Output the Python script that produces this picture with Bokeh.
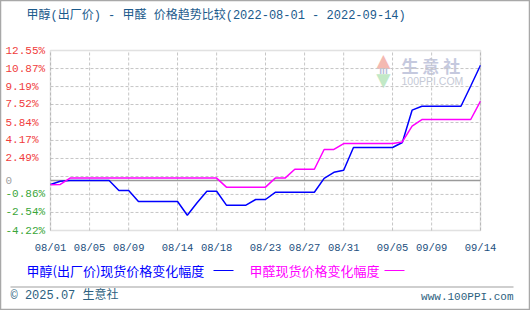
import datetime as dt
from bokeh.plotting import figure
from bokeh.models import Range1d, Label, BoxAnnotation, ColumnDataSource
from bokeh.embed import file_html
from bokeh.resources import INLINE

# ---------------- data ----------------
start_date = "2022-08-01"
end_date = "2022-09-14"
n_days = 45
methanol = [0.07, 0.37, 0.44, 0.44, 0.44, 0.44, 0.44, -0.49, -0.49, -1.52,
            -1.52, -1.52, -1.52, -1.52, -2.80, -1.63, -0.56, -0.56, -1.86, -1.86,
            -1.86, -1.33, -1.33, -0.66, -0.66, -0.66, -0.66, -0.66, 0.64, 1.20,
            1.40, 3.51, 3.51, 3.51, 3.51, 3.51, 3.98, 6.99, 7.36, 7.36,
            7.36, 7.36, 7.36, 9.24, 11.18]
formaldehyde = [0.05, 0.07, 0.66, 0.66, 0.66, 0.66, 0.66, 0.66, 0.66, 0.66,
                0.66, 0.66, 0.66, 0.66, 0.66, 0.66, 0.66, 0.66, -0.18, -0.18,
                -0.18, -0.18, -0.18, 0.66, 0.66, 1.49, 1.49, 1.49, 3.33, 3.33,
                3.88, 3.88, 3.88, 3.88, 3.88, 3.88, 4.03, 5.50, 6.12, 6.12,
                6.12, 6.12, 6.12, 6.12, 7.83]
x_tick_dates = ["2022-08-01", "2022-08-05", "2022-08-09", "2022-08-14", "2022-08-18",
                "2022-08-23", "2022-08-27", "2022-08-31", "2022-09-05", "2022-09-09",
                "2022-09-14"]
x_tick_labels = ["08/01", "08/05", "08/09", "08/14", "08/18", "08/23", "08/27", "08/31",
                 "09/05", "09/09", "09/14"]
y_min, y_max = -4.22, 12.55
y_tick_values = [12.55, 10.87, 9.19, 7.52, 5.84, 4.17, 2.49, 0.44, -0.86, -2.54, -4.22]
y_tick_labels = ["12.55%", "10.87%", "9.19%", "7.52%", "5.84%", "4.17%", "2.49%", "0",
                 "-0.86%", "-2.54%", "-4.22%"]
y_grid_values = [10.87, 9.19, 7.52, 5.84, 4.17, 2.49, 0.81, -0.86, -2.54]
zero_level = 0.44

title_text = "甲醇(出厂价) - 甲醛 价格趋势比较(2022-08-01 - 2022-09-14)"
series_names = ["甲醇(出厂价)现货价格变化幅度", "甲醛现货价格变化幅度"]
footer_left = "© 2025.07 生意社"
footer_right = "www.100PPI.com"

# ---------------- layout constants (pixels) ----------------
W, H = 530, 310
PL, PR, PT, PB = 50, 480, 50, 230   # plotting box inside the canvas

EPOCH = dt.datetime(1970, 1, 1)


def ms(d):
    return (d - EPOCH).total_seconds() * 1000.0


t0 = ms(dt.datetime.fromisoformat(start_date))
t1 = ms(dt.datetime.fromisoformat(end_date))
x_per_px = (t1 - t0) / (PR - PL)
y_per_px = (y_max - y_min) / (PB - PT)

d0 = dt.datetime.fromisoformat(start_date)
dates = [ms(d0 + dt.timedelta(days=i)) for i in range(n_days)]
src = ColumnDataSource(dict(x=dates, m=methanol, f=formaldehyde))

p = figure(width=W, height=H, output_backend="svg", toolbar_location=None,
           x_range=Range1d(t0 - PL * x_per_px, t1 + (W - PR) * x_per_px),
           y_range=Range1d(y_min - (H - PB) * y_per_px, y_max + PT * y_per_px),
           min_border=0, min_border_left=0, min_border_right=0,
           min_border_top=0, min_border_bottom=0)
p.axis.visible = False
p.grid.visible = False
p.background_fill_color = "white"
p.border_fill_color = "white"
p.outline_line_color = "#a8a8a8"
p.outline_line_width = 1.5

tick_ms = [ms(dt.datetime.fromisoformat(d)) for d in x_tick_dates]

U = "canvas"

# watermark (behind the data)
p.add_layout(Label(x=383, y=60, x_units=U, y_units=U, text="▲",
                   text_align="center", text_baseline="middle", text_font_size="24px",
                   text_color="#f4b9b1", level="underlay"))
p.add_layout(Label(x=383, y=69.5, x_units=U, y_units=U, text="ııı",
                   text_align="center", text_baseline="middle", text_font_size="10px",
                   text_font_style="bold", text_color="#b8bcd8", level="underlay"))
p.add_layout(Label(x=383, y=79, x_units=U, y_units=U, text="▼",
                   text_align="center", text_baseline="middle", text_font_size="24px",
                   text_color="#c2e9c6", level="underlay"))
p.add_layout(Label(x=401, y=65, x_units=U, y_units=U, text="生 意 社",
                   text_align="left", text_baseline="middle", text_font="Noto Sans CJK SC",
                   text_font_size="17px", text_font_style="bold", text_color="#c5c9de",
                   level="underlay"))
p.add_layout(Label(x=401, y=80, x_units=U, y_units=U, text="100PPI.COM",
                   text_align="left", text_baseline="middle", text_font="Liberation Sans",
                   text_font_size="10.5px", text_color="#c5c9d6", level="underlay"))

# dashed grid inside the plotting box
grid_col = "#c6c6c6"
p.segment(x0=tick_ms, x1=tick_ms, y0=[y_min] * len(tick_ms), y1=[y_max] * len(tick_ms),
          line_color=grid_col, line_dash="3 2", line_width=1)
p.segment(x0=[t0] * len(y_grid_values), x1=[t1] * len(y_grid_values),
          y0=y_grid_values, y1=y_grid_values,
          line_color=grid_col, line_dash="3 2", line_width=1)
# zero line
p.segment(x0=[t0], x1=[t1], y0=[zero_level], y1=[zero_level],
          line_color="#9a9a9a", line_width=1.5)
# plotting box border
p.add_layout(BoxAnnotation(left=t0, right=t1, bottom=y_min, top=y_max, fill_alpha=0,
                           line_color="#9a9a9a", line_width=1.5))

p.line("x", "m", source=src, line_color="#0000ff", line_width=1.5)
p.line("x", "f", source=src, line_color="#ff00ff", line_width=1.5)

# x tick labels
for t, lab in zip(tick_ms, x_tick_labels):
    p.add_layout(Label(x=t, x_units="data", y=247, y_units=U, text=lab,
                       text_align="center", text_baseline="middle",
                       text_font="Liberation Mono", text_font_size="10.5px",
                       text_color="#1d4f7e"))

# y tick labels with sign-dependent colours
for v, t in zip(y_tick_values, y_tick_labels):
    if t == "0":
        col = "#a0a0a0"
    elif t.startswith("-"):
        col = "#3aa63a"
    else:
        col = "#f03c3c"
    p.add_layout(Label(x=5, x_units=U, y=v, y_units="data", text=t,
                       text_align="left", text_baseline="middle",
                       text_font="Liberation Mono", text_font_size="11px", text_color=col))

cjk = "Liberation Mono, Noto Sans CJK SC"
p.add_layout(Label(x=26, y=15, x_units=U, y_units=U, text=title_text,
                   text_align="left", text_baseline="middle", text_font=cjk,
                   text_font_size="12px", text_color="#1b5a8c"))


def hbar(x0, x1, ypx, color, thick=1.0):
    p.add_layout(BoxAnnotation(left=x0, right=x1, top=ypx - thick / 2, bottom=ypx + thick / 2,
                               left_units=U, right_units=U, top_units=U,
                               bottom_units=U, fill_color=color, fill_alpha=1,
                               line_color=None))


# legend
p.add_layout(Label(x=26, y=270, x_units=U, y_units=U, text=series_names[0],
                   text_align="left", text_baseline="middle", text_font="Noto Sans CJK SC",
                   text_font_size="13px", text_color="#0000ff"))
hbar(213, 233, 270, "#0000ff")
p.add_layout(Label(x=249, y=270, x_units=U, y_units=U, text=series_names[1],
                   text_align="left", text_baseline="middle", text_font="Noto Sans CJK SC",
                   text_font_size="13px", text_color="#ff00ff"))
hbar(384, 404, 270, "#ff00ff")

# separator + footer
hbar(10, 513, 286.5, "#a0a0a0")
p.add_layout(Label(x=10, y=295, x_units=U, y_units=U, text=footer_left,
                   text_align="left", text_baseline="middle", text_font=cjk,
                   text_font_size="12px", text_color="#2d5f80"))
p.add_layout(Label(x=513, y=296, x_units=U, y_units=U, text=footer_right,
                   text_align="right", text_baseline="middle", text_font="Liberation Mono",
                   text_font_size="11px", text_color="#2d5f80"))

open("out.html", "w").write(file_html(p, INLINE))
